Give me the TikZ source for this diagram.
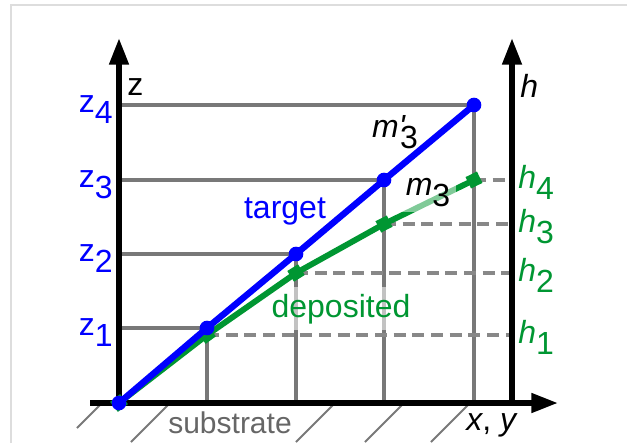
\documentclass[tikz,border=0pt]{standalone}
\usepackage{fontspec}
\setmainfont{Liberation Sans}
\usepackage{tikz}
\usetikzlibrary{arrows.meta}
\definecolor{tgtblue}{RGB}{0, 0, 255}
\definecolor{depgreen}{RGB}{0, 150, 50}
\definecolor{gridgray}{RGB}{120,120,120}
\definecolor{dashgray}{RGB}{136,136,136}
\definecolor{subgray}{RGB}{102,102,102}
\definecolor{framegray}{RGB}{221,221,221}
\newcommand{\sublbl}[2]{#1\raisebox{-0.35em}{#2}}
\tikzset{
  % axes
  axisline/.style  = {line width=4.2pt, black, -{Triangle[length=20pt,width=14pt]}},
  % grid and helper lines
  gridline/.style  = {line width=2.6pt, draw=gridgray},
  dashline/.style  = {line width=2.6pt, draw=dashgray, dash pattern=on 9pt off 5pt},
  hatchline/.style = {line width=1.5pt, draw=gridgray},
  % the two profiles
  tgtline/.style   = {line width=4.8pt, draw=tgtblue, line join=round},
  depline/.style   = {line width=4.4pt, draw=depgreen, line join=round},
  tgtdot/.style    = {circle, fill=tgtblue, inner sep=0pt, minimum size=11pt},
  depmark/.style   = {rectangle, fill=depgreen, inner sep=0pt, minimum size=9.5pt},
  % labels
  lbl/.style       = {inner sep=0pt, font=\fontsize{24}{28}\selectfont},
  zlab/.style      = {lbl, text=tgtblue, anchor=base east},
  hlab/.style      = {lbl, text=depgreen, anchor=base west},
  mlab/.style      = {lbl, anchor=base},
}
\begin{document}
\begin{tikzpicture}[x=0.75pt, y=-0.75pt]
  \useasboundingbox (0,0) rectangle (627,443);
  % frame
  \draw[framegray, line width=1.5pt] (11,443) -- (11,5) -- (627,5);
  % axis points
  \coordinate (O) at (119,403);
  \coordinate (ztip) at (119,38);
  \coordinate (hbase) at (512,403);
  \coordinate (htip) at (512,38);
  \coordinate (xstart) at (90,403);
  \coordinate (xtip) at (558,403);
  % target and deposited points
  \foreach \i/\px/\py in {0/119/403, 1/207/328, 2/296/254, 3/384/180, 4/474/105}
    \coordinate (t\i) at (\px,\py);
  \foreach \i/\px/\py in {0/119/403, 1/207/335, 2/296/273, 3/384/224, 4/474/180}
    \coordinate (d\i) at (\px,\py);
  \foreach \i in {1,...,4}
    \coordinate (h\i) at (hbase |- d\i);
  % grid
  \foreach \i in {1,...,4}
    \draw[gridline] (O |- t\i) -- (t\i) -- (t\i |- O);
  \foreach \i in {1,...,4}
    \draw[dashline] (d\i) -- (h\i);
  % substrate
  \foreach \hx/\hl in {100/23, 168/37, 333/37, 402/37, 468/37}
    \draw[hatchline] (\hx,405) -- ++(-\hl,\hl);
  \node[lbl, anchor=base, text=subgray, fill=white, inner sep=1pt,
        font=\fontsize{22.5}{26}\selectfont] (sub) at (230,433) {substrate};
  % axes
  \draw[axisline] (O) -- (ztip);
  \draw[axisline] (hbase) -- (htip);
  \draw[axisline] (xstart) -- (xtip);
  \node[lbl, anchor=base west] (zname) at (127,95) {z};
  \node[lbl, anchor=base west] (hname) at (520,97) {\textit{h}};
  \node[lbl, anchor=base west] (xyname) at (466,430) {\textit{x}, \textit{y}};
  % deposited
  \node[lbl, anchor=base, text=depgreen, fill=white, fill opacity=0.55,
        text opacity=1, inner sep=5pt] (deplbl) at (341,317) {deposited};
  \draw[depline] (d0) -- (d1) -- (d2) -- (d3) -- (d4);
  \foreach \i/\r in {0/38, 1/36, 2/32, 3/27, 4/26}
    \node[depmark, rotate=\r] (dm\i) at (d\i) {};
  \node[mlab, fill=white, fill opacity=0.5, text opacity=1, inner sep=4pt]
    (m3) at (428,195) {\sublbl{\textit{m}}{3}};
  \node[mlab] (mp3) at (395,137)
    {\textit{m}\rlap{\textit{\textquotesingle}}\kern1pt\raisebox{-0.35em}{3}};
  % target
  \node[lbl, anchor=base, text=tgtblue] (tgtlbl) at (285,218) {target};
  \draw[tgtline] (t0) -- (t1) -- (t2) -- (t3) -- (t4);
  \foreach \i in {0,...,4}
    \node[tgtdot] (td\i) at (t\i) {};
  % level labels
  \foreach \i/\zy in {1/335, 2/261, 3/187, 4/112}
    \node[zlab] (zl\i) at (113,\zy) {\sublbl{z}{\i}};
  \foreach \i/\hy in {1/343, 2/281, 3/232, 4/188}
    \node[hlab] (hl\i) at (518,\hy) {\sublbl{\textit{h}}{\i}};
\end{tikzpicture}
\end{document}
